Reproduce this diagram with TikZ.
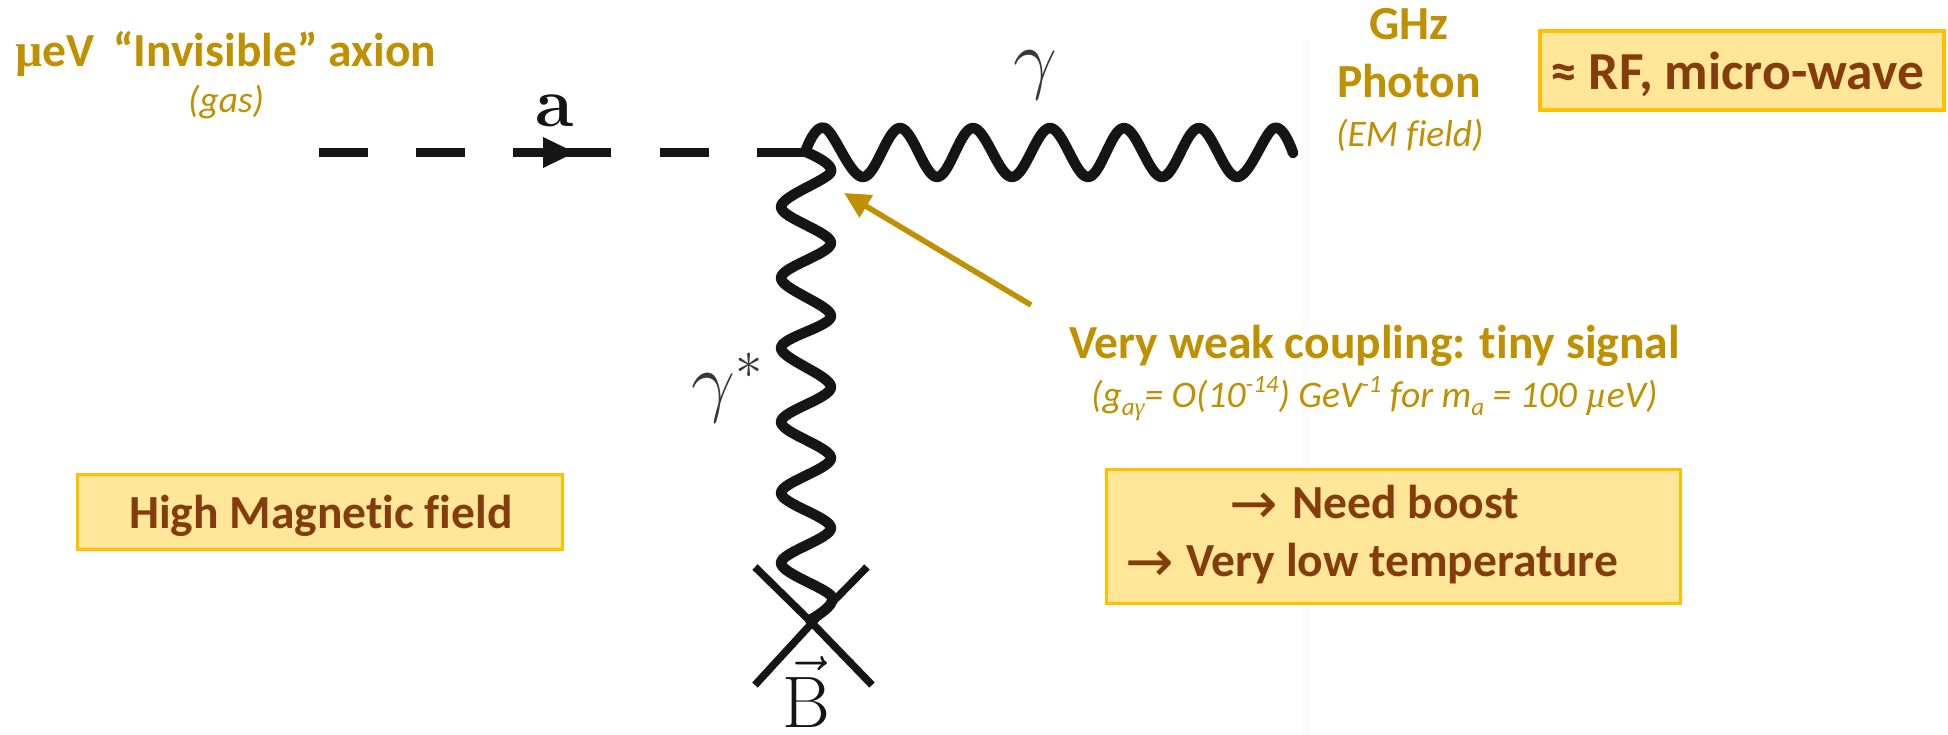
\RequirePackage{fix-cm}
\documentclass[tikz,border=0pt]{standalone}
\usepackage{fontspec}
\newfontfamily\car[Ligatures=NoCommon]{Carlito}
\newfontfamily\serf{Liberation Serif}
\newfontfamily\dej{DejaVu Sans}
\usetikzlibrary{arrows.meta}
\definecolor{gold}{HTML}{BF9000}
\definecolor{brownt}{HTML}{843C0C}
\definecolor{boxfill}{HTML}{FFE699}
\definecolor{boxline}{HTML}{FFC000}
\definecolor{ink}{HTML}{151515}
\definecolor{faint}{HTML}{FCFCFC}
\newcommand\fs[1]{\fontsize{#1}{#1}\selectfont}
\tikzset{
  txt/.style={inner sep=0pt,anchor=base west},
  goldb/.style={txt,text=gold,font=\car\bfseries\fs{47.5}},
  goldi/.style={txt,text=gold,font=\car\itshape\fs{37.5}},
  brownb/.style={txt,text=brownt,font=\car\bfseries\fs{47.5}},
  hl/.style={draw=boxline,fill=boxfill,line width=3pt,outer sep=0pt,inner sep=0pt,anchor=north west},
  wave/.style={draw=ink,line width=10.5pt,line cap=round,line join=round},
  crossbar/.style={draw=ink,line width=7.5pt},
  feyn/.style={txt,text=ink},
}
\begin{document}
\begin{tikzpicture}[x=1pt,y=-1pt]
\useasboundingbox (0,0) rectangle (1948,735);
\fill[white] (0,0) rectangle (1948,735);
\fill[faint] (1301,40) rectangle (1310,735);
% boxes
\node[hl,line width=4pt,minimum width=404pt,minimum height=79pt] (rfbox) at (1540,31) {};
\node[hl,minimum width=485pt,minimum height=75pt] (hmbox) at (77.5,474.5) {};
\node[hl,minimum width=574pt,minimum height=134pt] (needbox) at (1106.5,469.5) {};
% coordinates
\coordinate (axstart) at (319,152.5);
\coordinate (vertex) at (806,152.5);
\coordinate (triT) at (543,137);
\coordinate (triB) at (543,168);
\coordinate (triR) at (575,152.5);
\coordinate (xc) at (812,623);
\coordinate (xa) at (755,567);
\coordinate (xb) at (872,685);
\coordinate (xd) at (755,685);
\coordinate (xe) at (867,567);
\coordinate (armtail) at (1031,305);
\coordinate (armtip) at (844,193);
% axion
\draw[draw=ink,line width=9pt,dash pattern=on 49pt off 48pt on 49pt off 48pt on 98pt off 49pt on 49pt off 48pt on 49pt off 10pt] (axstart) -- (vertex);
\fill[ink] (triT) -- (triR) -- (triB) -- cycle;
% photon
\draw[wave] plot[smooth,tension=0.62] coordinates {(806,150) (825,128) (863,177) (900,128) (937,177) (973,128) (1012,177) (1050,128) (1088,177) (1124,128) (1162,177) (1199,128) (1237,177) (1274,128) (1293,153)};
% virtual photon
\draw[wave] plot[smooth,tension=0.55] coordinates {(806,152) (831,172) (781,207) (831,243) (781,278) (831,316) (781,348) (831,387) (781,422) (831,458) (781,493) (831,528) (781,563) (832,597) (810,620)};
% cross
\draw[crossbar] (xa) -- (xc) -- (xb);
\draw[crossbar] (xd) -- (xc) -- (xe);
% gold arrow
\draw[draw=gold,line width=5.5pt,-{Triangle[length=26pt,width=25pt]}] (armtail) -- (armtip);
% feynman labels
\node[feyn,font=\bfseries\fs{70}] (alabel) at (535,127) {a};
\node[feyn,font=\fs{78},text=ink!85] (gtop) at (1013,85) {$\gamma$};
\node[feyn,font=\fs{78},text=ink!85] (gstar) at (691,407) {$\gamma^*$};
\node[feyn,font=\fs{73}] (blabel) at (782,727) {$\vec{\mathrm{B}}$};
% texts
\node[goldb] (axion) at (15,67) {{\serf\bfseries µ}eV\, “Invisible” axion};
\node[goldi] (gas) at (188,113) {(gas)};
\node[goldb] (ghz) at (1369,40) {GHz};
\node[goldb] (photon) at (1337,98) {Photon};
\node[goldi] (emf) at (1336,147) {(EM field)};
\node[brownb,font=\car\bfseries\fs{53.5}] (rf) at (1550,90) {≈ RF, micro-wave};
\node[brownb] (hm) at (129,528) {High Magnetic field};
\node[goldb] (coupl) at (1069,358) {Very weak coupling: tiny signal};
\node[goldi] (gag) at (1091,407) {(g\raisebox{-8pt}{\fs{25}a{\serf\itshape γ}}= O(10\raisebox{15pt}{\fs{25}-14}) GeV\raisebox{15pt}{\fs{25}-1} for m\raisebox{-8pt}{\fs{25}a} = 100 {\serf\itshape µ}eV)};
\node[brownb] (need) at (1292,518) {Need boost};
\node[brownb] (vlow) at (1186,576) {Very low temperature};
\node[brownb,font=\dej\fs{58}] (ar1) at (1229,523) {→};
\node[brownb,font=\dej\fs{58}] (ar2) at (1125,581) {→};
\end{tikzpicture}
\end{document}
